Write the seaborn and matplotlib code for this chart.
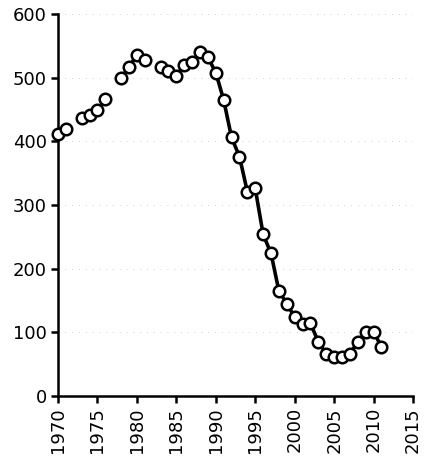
import numpy as np
import pandas as pd
import matplotlib
matplotlib.use("Agg")
import matplotlib.pyplot as plt
import seaborn as sns

years = [1970, 1971, 1972, 1973, 1974, 1975, 1976, 1977, 1978, 1979, 1980, 1981, 1982,
         1983, 1984, 1985, 1986, 1987, 1988, 1989, 1990, 1991, 1992, 1993, 1994, 1995,
         1996, 1997, 1998, 1999, 2000, 2001, 2002, 2003, 2004, 2005, 2006, 2007, 2008,
         2009, 2010, 2011]
values = [412, 420, np.nan, 436, 442, 449, 466, np.nan, 499, 517, 535, 527, np.nan,
          516, 510, 503, 520, 525, 540, 532, 508, 465, 406, 376, 321, 326,
          254, 224, 165, 145, 124, 113, 114, 85, 66, 61, 62, 66, 85,
          100, 101, 77]
x_ticks = [1970, 1975, 1980, 1985, 1990, 1995, 2000, 2005, 2010, 2015]
y_ticks = [0, 100, 200, 300, 400, 500, 600]

sns.set_theme(style="white")
plt.rcParams['font.family'] = ['DejaVu Sans']

df = pd.DataFrame({"year": years, "value": values})
# segments separated by missing years, so the line breaks at gaps
df["segment"] = df["value"].isna().cumsum()
df = df.dropna()

fig = plt.figure(figsize=(4.28, 4.69), dpi=100)
ax = fig.add_axes([0.1355, 0.1557, 0.8295, 0.8145])

for y in y_ticks[1:]:
    ax.axhline(y, color="#d0d0d0", linewidth=0.7, linestyle=(0, (1, 6)), zorder=0)

sns.lineplot(data=df, x="year", y="value", units="segment", ax=ax, color="black",
             linewidth=2.6, marker="o", markersize=8.3, markerfacecolor="white",
             markeredgecolor="black", markeredgewidth=1.8, estimator=None,
             clip_on=False, zorder=3)

ax.set_xlim(1970, 2015)
ax.set_ylim(0, 600)
ax.set_xticks(x_ticks)
ax.set_yticks(y_ticks)
ax.set_xticklabels([str(t) for t in x_ticks], rotation=90)
ax.set_xlabel("")
ax.set_ylabel("")

for side in ["top", "right"]:
    ax.spines[side].set_visible(False)
for side in ["left", "bottom"]:
    ax.spines[side].set_color("black")
    ax.spines[side].set_linewidth(1.8)
    ax.spines[side].set_zorder(2)
ax.tick_params(axis="both", which="major", direction="out", length=5, width=1.8,
               color="black", labelsize=13, labelcolor="black", pad=3)
ax.tick_params(axis="x", bottom=True)
ax.tick_params(axis="y", left=True)

fig.savefig("out.png", dpi=100)
